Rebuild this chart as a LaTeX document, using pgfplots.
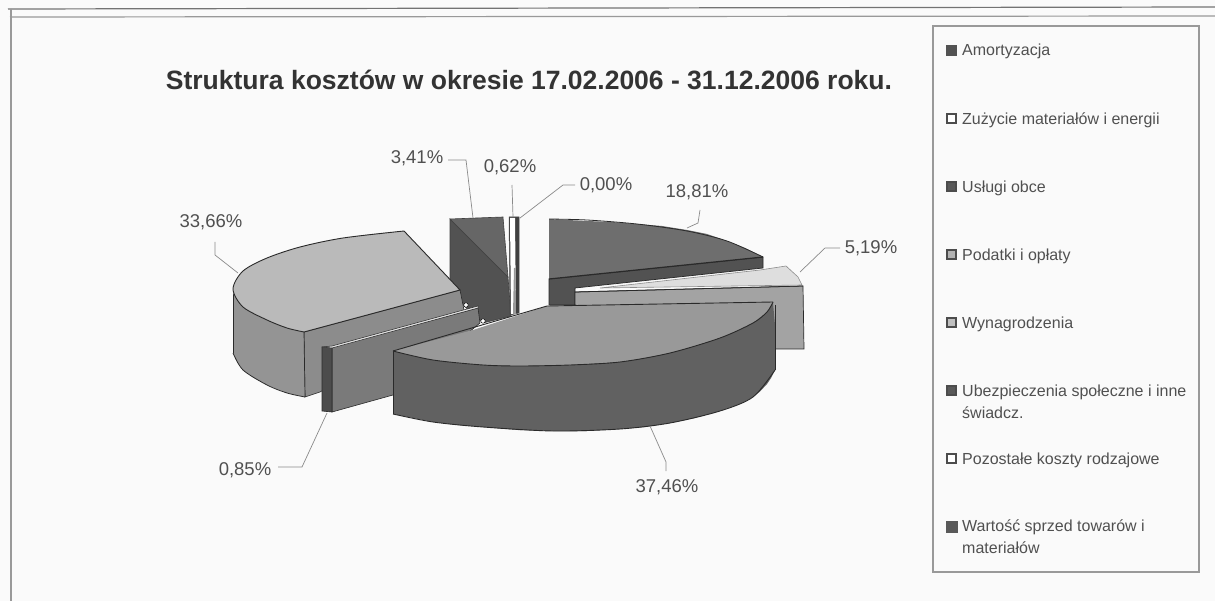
\documentclass[border=0pt]{standalone}
\usepackage{pgfplots}
\pgfplotsset{compat=1.18}
\usepackage{fontspec}
\setmainfont{Liberation Sans}
\definecolor{bg}{HTML}{FAFAFA}
\definecolor{txt}{HTML}{505050}
\definecolor{ln}{HTML}{2A2A2A}
\definecolor{lead}{HTML}{8A8A8A}
\begin{document}
\begin{tikzpicture}
\begin{axis}[hide axis,scale only axis,width=1215pt,height=601pt,
  xmin=0,xmax=1215,ymin=0,ymax=601,y dir=reverse,enlargelimits=false,clip=true]
% background
\addplot[fill=bg,draw=none] coordinates {(0,0)(1215,0)(1215,601)(0,601)} --cycle;
% outer frame
\addplot[draw=black!55,line width=1.2pt] coordinates {(8,9)(1215,7)};
\addplot[draw=black!40,line width=1.2pt] coordinates {(10,17)(1215,16)};
\addplot[draw=black!40,line width=1.5pt] coordinates {(11,9)(11,601)};
% legend box
\addplot[fill=bg,draw=black!40,line width=1.6pt] coordinates {(933,26)(1199,26)(1199,572)(933,572)} --cycle;
% 18.81
\addplot[fill=black!68,draw=ln,line width=.7pt] coordinates {(549,279)(763,257)(763,268)(575,288)(575,305)(549,305)} --cycle;
\addplot[fill=black!57,draw=none] coordinates {(549,219)(587,221)(612,222)(637,224)(662,226)(687,230)(707,234)(727,241)(745,248)(763,257)(549,279)} --cycle;
\addplot[draw=ln,line width=.8pt,smooth] coordinates {(549,219)(587,220)(637,224)(687,231)(727,241)(763,257)};
\addplot[draw=ln,line width=1.2pt] coordinates {(763,257)(549,279)};
% 5.19
\addplot[fill=black!36,draw=ln,line width=.7pt] coordinates {(575,292)(803,286)(804,349)(773,349)(575,305)} --cycle;
\addplot[fill=black!13,draw=black!45,line width=.6pt] coordinates {(600,288)(760,270)(786,266)(798,277)(802,285)} --cycle;
\addplot[draw=ln,line width=.8pt] coordinates {(575,292)(803,286)};
% 3.41
\addplot[fill=black!68,draw=black!75,line width=.6pt] coordinates {(450,219)(508,277)(511,316)(483,323)(463,305)(450,286)} --cycle;
\addplot[fill=black!60,draw=black!75,line width=.6pt] coordinates {(450,219)(503,217)(508,277)} --cycle;
% 0.62
\addplot[fill=black!75,draw=black!70,line width=.5pt] coordinates {(509,217)(519,217)(519,313)(510,315)} --cycle;
\addplot[fill=white,draw=none] coordinates {(510,218)(515,218)(516,314)(511,314)} --cycle;
\addplot[fill=black!40,draw=none] coordinates {(514,268)(515.5,268)(516,314)(513,314)} --cycle;
% 33.66
\addplot[fill=black!45,draw=ln,line width=.6pt] coordinates {(304,332)(460,290)(464,310)(320,392)(305,397)} --cycle;
\addplot[fill=black!42,draw=none] coordinates {(233,290)(237,300)(243,307)(255,314)(267,320)(287,328)(304,332)(305,397)(287,393)(267,385)(254,378)(243,370)(237,362)(233,353)} --cycle;
\addplot[draw=ln,line width=.7pt] coordinates {(233,290)(233,353)};
\addplot[draw=ln,line width=.7pt] coordinates {(304,332)(305,397)};
\addplot[draw=ln,line width=.8pt,smooth] coordinates {(233,353)(243,370)(267,385)(287,393)(305,397)};
\addplot[fill=black!27,draw=none] coordinates {(404,231)(372,234)(343,238)(320,242)(300,247)(283,252)(267,258)(254,264)(243,271)(237,279)(233,287)(233,293)(237,300)(243,307)(255,314)(267,320)(287,328)(304,332)(460,290)} --cycle;
\addplot[draw=ln,line width=.9pt,smooth] coordinates {(404,231)(343,238)(300,247)(267,258)(243,271)(233,289)(243,307)(267,320)(287,328)(304,332)};
\addplot[draw=ln,line width=.9pt] coordinates {(304,332)(460,290)(404,231)};
% 0.85
\addplot[fill=black!52,draw=ln,line width=.6pt] coordinates {(332,347)(478,308)(480,323)(393,395)(332,412)} --cycle;
\addplot[fill=black!70,draw=ln,line width=.6pt] coordinates {(322,347)(332,347)(332,412)(322,411)} --cycle;
\addplot[fill=black!12,draw=ln,line width=.5pt] coordinates {(322,347)(332,346)(478,306)(478,308)(332,348)} --cycle;
% 37.46
\addplot[fill=black!62,draw=none] coordinates {(773,303)(775,325)(775,370)(771,378)(767,384)(760,391.5)(753,397)(745,401.5)(737,405)(720,411)(695,418)(670,423)(645,427)(620,429)(587,431)(553,431)(518,430)(483,427)(458,425)(433,422)(393,414)(393,351)} --cycle;
\addplot[draw=ln,line width=.7pt] coordinates {(393,351)(393,414)};
\addplot[draw=ln,line width=.7pt] coordinates {(775,305)(775,370)};
\addplot[draw=ln,line width=.9pt,smooth] coordinates {(775,370)(753,397)(720,411)(670,423)(620,429)(553,431)(483,427)(433,422)(393,414)};
\addplot[fill=black!40,draw=none] coordinates {(773,302)(547,306)(473,330)(393,351)(413,356)(433,360)(458,363)(483,365)(520,366)(570,365)(620,362)(645,358)(670,353)(695,346)(720,338)(737,331)(753,323)(767,312)} --cycle;
\addplot[draw=ln,line width=.9pt,smooth] coordinates {(393,351)(433,360)(483,365)(520,366)(570,365)(620,362)(670,353)(720,338)(753,323)(767,312)(773,302)};
\addplot[draw=ln,line width=.9pt] coordinates {(773,302)(547,306)(393,351)};
% small white gaps
\addplot[only marks,mark=*,mark size=2.2pt,mark options={fill=white,draw=none}] coordinates {(466,305)(483,321)};
% leader lines
\addplot[draw=lead,line width=.7pt] coordinates {(448,160)(466,160)(473,218)};
\addplot[draw=lead,line width=.7pt] coordinates {(512,185)(513,217)};
\addplot[draw=lead,line width=.7pt] coordinates {(575,185)(563,185)(520,218)};
\addplot[draw=lead,line width=.7pt] coordinates {(700,210)(698,223)(687,228)};
\addplot[draw=lead,line width=.7pt] coordinates {(840,248)(825,248)(800,272)};
\addplot[draw=lead,line width=.7pt] coordinates {(215,242)(215,255)(238,273)};
\addplot[draw=lead,line width=.7pt] coordinates {(278,467)(302,467)(327,413)};
\addplot[draw=lead,line width=.7pt] coordinates {(650,426)(666,462)(666,471)};
% labels
\node[font=\fontsize{26.5}{30}\selectfont\bfseries,text=black!80,anchor=center] at (axis cs:529,80) {Struktura kosztów w okresie 17.02.2006 - 31.12.2006 roku.};
\foreach \x/\y/\t in {417/158/{3,41\%},510/167/{0,62\%},606/185/{0,00\%},697/192/{18,81\%},871/248/{5,19\%},211/222/{33,66\%},245/470/{0,85\%},667/487/{37,46\%}} {
  \edef\tmp{\noexpand\node[font=\noexpand\fontsize{18.5}{22}\noexpand\selectfont,text=txt,anchor=center] at (axis cs:\x,\y) {\t};}
  \tmp
}
% legend swatches
\addplot[fill=black!68,draw=black!68] coordinates {(946,45)(956,45)(956,55)(946,55)} --cycle;
\addplot[fill=white,draw=black!70,line width=1.2pt] coordinates {(947,114)(956,114)(956,123)(947,123)} --cycle;
\addplot[fill=black!65,draw=black!70,line width=1.2pt] coordinates {(947,182)(956,182)(956,191)(947,191)} --cycle;
\addplot[fill=black!30,draw=black!70,line width=1.2pt] coordinates {(947,250)(956,250)(956,259)(947,259)} --cycle;
\addplot[fill=black!25,draw=black!70,line width=1.2pt] coordinates {(947,318)(956,318)(956,327)(947,327)} --cycle;
\addplot[fill=black!65,draw=black!70,line width=1.2pt] coordinates {(947,386)(956,386)(956,395)(947,395)} --cycle;
\addplot[fill=white,draw=black!70,line width=1.2pt] coordinates {(947,454)(956,454)(956,463)(947,463)} --cycle;
\addplot[fill=black!65,draw=black!65] coordinates {(946,521)(957,521)(957,532)(946,532)} --cycle;
% legend text
\foreach \y/\t in {51/{Amortyzacja},120/{Zużycie materiałów i energii},188/{Usługi obce},256/{Podatki i opłaty},324/{Wynagrodzenia},392/{Ubezpieczenia społeczne i inne},413/{świadcz.},460/{Pozostałe koszty rodzajowe},527/{Wartość sprzed towarów i},548/{materiałów}} {
  \edef\tmp{\noexpand\node[font=\noexpand\fontsize{16}{19}\noexpand\selectfont,text=txt,anchor=west,inner sep=0pt] at (axis cs:962,\y) {\t};}
  \tmp
}
\end{axis}
\end{tikzpicture}
\end{document}
